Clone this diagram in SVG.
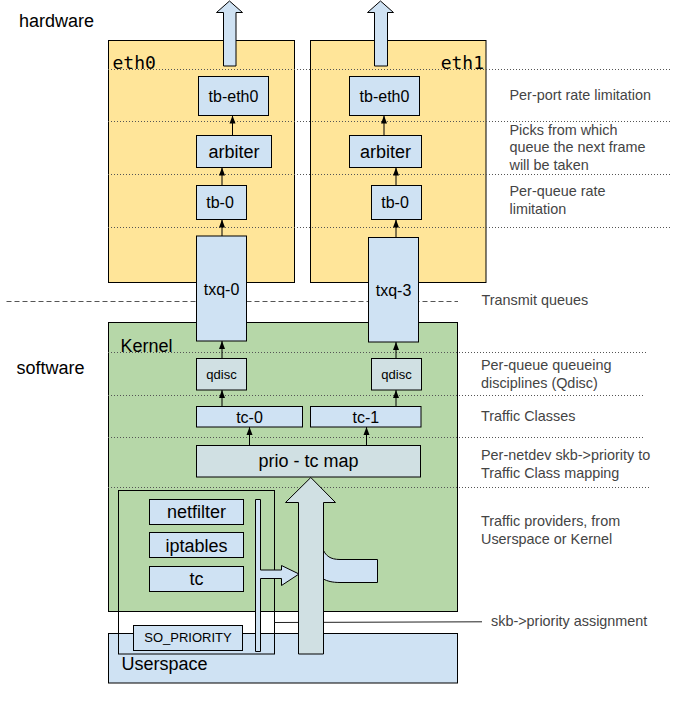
<svg xmlns="http://www.w3.org/2000/svg" width="687" height="705" viewBox="0 0 687 705">
<style>
text{font-family:"Liberation Sans",Arial,sans-serif;fill:#000}
.box{fill:#cfe2f3;stroke:#000;stroke-width:1}
.gbox{fill:#d0e0e3;stroke:#000;stroke-width:1}
.c{text-anchor:middle}
.lbl{font-size:14.4px;fill:#444}
.dot{stroke:#555;stroke-width:1;stroke-dasharray:1 2;fill:none}
.conn{stroke:#000;stroke-width:1;fill:none;marker-end:url(#ah)}
.mono{font-family:"DejaVu Sans Mono",monospace;font-size:18px}
</style>
<defs>
<marker id="ah" viewBox="0 0 8 8" refX="8" refY="4" markerWidth="8" markerHeight="8" markerUnits="userSpaceOnUse" orient="auto">
<path d="M0,1 L8,4 L0,7 Z" fill="#000"/>
</marker>
</defs>
<rect width="687" height="705" fill="#fff"/>

<g id="labels-side">
<text x="19" y="27" font-size="18">hardware</text>
<text x="16.5" y="374" font-size="18">software</text>
</g>

<g id="containers">
<rect id="eth0-box" x="108.5" y="40.5" width="186" height="242" fill="#ffe599" stroke="#000"/>
<rect id="eth1-box" x="310.5" y="40.5" width="175.5" height="242" fill="#ffe599" stroke="#000"/>
<rect id="kernel-box" x="108.5" y="322.5" width="349" height="289" fill="#b6d7a8" stroke="#000"/>
<rect id="userspace-box" x="108.5" y="633.5" width="349" height="49.5" fill="#cfe2f3" stroke="#000"/>
<text class="mono" x="112.5" y="69">eth0</text>
<text class="mono" x="484" y="69" text-anchor="end">eth1</text>
<text x="120.5" y="352" font-size="18">Kernel</text>
<text x="121.5" y="670" font-size="18">Userspace</text>
</g>

<g id="layer-lines">
<line class="dot" x1="108" y1="69.5" x2="672" y2="69.5"/>
<line class="dot" x1="108" y1="121.5" x2="672" y2="121.5"/>
<line class="dot" x1="108" y1="174.5" x2="672" y2="174.5"/>
<line class="dot" x1="108" y1="227.5" x2="672" y2="227.5"/>
<line x1="6.5" y1="301.5" x2="458" y2="301.5" stroke="#555" stroke-dasharray="5 3"/>
<line class="dot" x1="108" y1="352.5" x2="646" y2="352.5"/>
<line class="dot" x1="108" y1="395.5" x2="643" y2="395.5"/>
<line class="dot" x1="108" y1="437.5" x2="645" y2="437.5"/>
<line class="dot" x1="108" y1="487.5" x2="649" y2="487.5"/>
</g>

<g id="layer-labels" class="lbl">
<text class="lbl" x="509.5" y="99.5">Per-port rate limitation</text>
<text class="lbl" x="509.5" y="134.5">Picks from which</text>
<text class="lbl" x="509.5" y="152">queue the next frame</text>
<text class="lbl" x="509.5" y="169.5">will be taken</text>
<text class="lbl" x="509.5" y="196">Per-queue rate</text>
<text class="lbl" x="509.5" y="213.5">limitation</text>
<text class="lbl" x="481.5" y="304.5">Transmit queues</text>
<text class="lbl" x="481" y="369.5">Per-queue queueing</text>
<text class="lbl" x="481" y="387.5">disciplines (Qdisc)</text>
<text class="lbl" x="481" y="421">Traffic Classes</text>
<text class="lbl" x="481" y="459.5">Per-netdev skb-&gt;priority to</text>
<text class="lbl" x="481" y="477.5">Traffic Class mapping</text>
<text class="lbl" x="481" y="526">Traffic providers, from</text>
<text class="lbl" x="481" y="544">Userspace or Kernel</text>
<text class="lbl" x="491" y="625.5">skb-&gt;priority assignment</text>
</g>

<g id="up-arrow-eth0">
<polygon class="box" points="223.5,66 223.5,12.5 216.5,12.5 229.5,1 242.5,12.5 236,12.5 236,66"/>
</g>
<g id="up-arrow-eth1">
<polygon class="box" points="374.5,66 374.5,12.5 367.5,12.5 380.5,1 393.5,12.5 387.5,12.5 387.5,66"/>
</g>

<g id="eth0-tb-eth0"><rect class="box" x="198.5" y="76.5" width="70" height="39"/><text class="c" x="233.5" y="101.5" font-size="16">tb-eth0</text></g>
<g id="eth0-arbiter"><rect class="box" x="196.5" y="135.5" width="75" height="32"/><text class="c" x="234" y="158.3" font-size="18">arbiter</text></g>
<g id="eth0-tb-0"><rect class="box" x="196.5" y="185.5" width="50" height="34"/><text class="c" x="220" y="207.5" font-size="16">tb-0</text></g>
<g id="txq-0"><rect class="box" x="196.5" y="236" width="50" height="105"/><text class="c" x="221.5" y="295.3" font-size="16">txq-0</text></g>

<g id="eth1-tb-eth0"><rect class="box" x="349.5" y="76.5" width="70" height="39"/><text class="c" x="384.5" y="101.5" font-size="16">tb-eth0</text></g>
<g id="eth1-arbiter"><rect class="box" x="349.5" y="135.5" width="72" height="32"/><text class="c" x="385.5" y="158.3" font-size="18">arbiter</text></g>
<g id="eth1-tb-0"><rect class="box" x="371.5" y="185.5" width="50" height="34"/><text class="c" x="395" y="207.5" font-size="16">tb-0</text></g>
<g id="txq-3"><rect class="box" x="368.5" y="237.5" width="50" height="104.5"/><text class="c" x="393.5" y="295.5" font-size="16">txq-3</text></g>

<g id="qdisc-0"><rect class="gbox" x="196.5" y="358.5" width="50" height="31.5"/><text class="c" x="221.5" y="379" font-size="13">qdisc</text></g>
<g id="qdisc-1"><rect class="gbox" x="371.5" y="358.5" width="50" height="31.5"/><text class="c" x="396.5" y="379" font-size="13">qdisc</text></g>
<g id="tc-0"><rect class="box" x="196.5" y="406.5" width="106" height="20.5"/><text class="c" x="249.5" y="422.7" font-size="16">tc-0</text></g>
<g id="tc-1"><rect class="box" x="310.5" y="406.5" width="110.5" height="20.5"/><text class="c" x="365.8" y="422.7" font-size="16">tc-1</text></g>
<g id="prio-tc-map"><rect class="gbox" x="196.5" y="445.5" width="224" height="31.5"/><text class="c" x="308.5" y="467.3" font-size="18">prio - tc map</text></g>

<g id="providers">
<rect x="118.5" y="490.5" width="156" height="163.5" fill="none" stroke="#000"/>
</g>
<g id="netfilter"><rect class="box" x="149.5" y="499.5" width="94" height="25"/><text class="c" x="196.5" y="517.7" font-size="18">netfilter</text></g>
<g id="iptables"><rect class="box" x="149.5" y="532.5" width="94" height="25"/><text class="c" x="196.5" y="551.5" font-size="18">iptables</text></g>
<g id="tc"><rect class="box" x="149.5" y="566.5" width="94" height="25"/><text class="c" x="196.5" y="585" font-size="18">tc</text></g>
<g id="so-priority"><rect class="box" x="133.5" y="625.5" width="109" height="25"/><text class="c" x="188" y="642.3" font-size="13">SO_PRIORITY</text></g>

<g id="connectors">
<line class="conn" x1="232.5" y1="135.5" x2="232.5" y2="115.5"/>
<line class="conn" x1="222" y1="185.5" x2="222" y2="167.5"/>
<line class="conn" x1="222" y1="236" x2="222" y2="219.5"/>
<line class="conn" x1="384" y1="135.5" x2="384" y2="115.5"/>
<line class="conn" x1="396" y1="185.5" x2="396" y2="167.5"/>
<line class="conn" x1="396" y1="237.5" x2="396" y2="219.5"/>
<line class="conn" x1="222" y1="358.5" x2="222" y2="341"/>
<line class="conn" x1="396" y1="358.5" x2="396" y2="342"/>
<line class="conn" x1="222" y1="406.5" x2="222" y2="390"/>
<line class="conn" x1="396" y1="406.5" x2="396" y2="390"/>
<line class="conn" x1="249.5" y1="445.5" x2="249.5" y2="427"/>
<line class="conn" x1="366.5" y1="445.5" x2="366.5" y2="427"/>
<line x1="274.5" y1="622.5" x2="482" y2="621.8" stroke="#222" stroke-width="1"/>
<path class="box" d="M323.5,550.5 C326,555.5 330,559.5 340,559.5 L377.5,559.5 L377.5,582.5 L340,582.5 C332,582.5 327,581 323.5,579 Z"/>
<polygon class="box" points="255.5,499.5 260.5,499.5 260.5,570 281.5,570 281.5,565.5 299,574 281.5,585.5 281.5,578.5 260.5,578.5 260.5,651.5 255.5,651.5"/>
<polygon class="gbox" points="298.5,654 298.5,502.5 285.5,502.5 310.8,477.5 335.5,502.5 323.5,502.5 323.5,654"/>
</g>
</svg>
